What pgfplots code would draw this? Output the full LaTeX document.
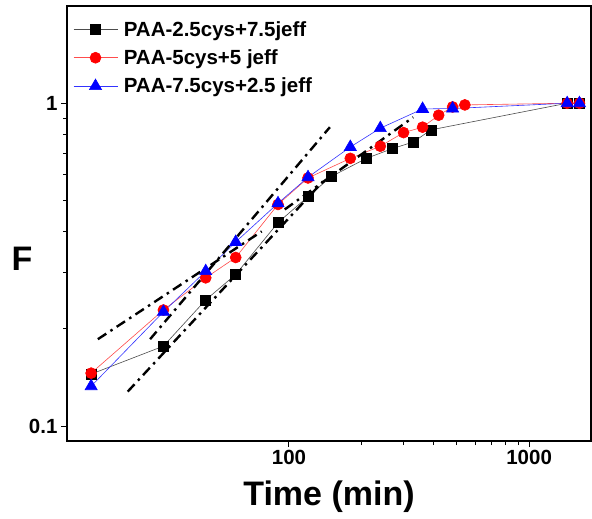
\documentclass[border=0pt]{standalone}
\usepackage{fontspec}
\setmainfont{Liberation Sans}
\usepackage{pgfplots}
\pgfplotsset{compat=1.18}

\begin{document}
\begin{tikzpicture}
\begin{axis}[
  xmode=log, ymode=log,
  width=524pt, height=435pt, scale only axis,
  xmin=11.9, xmax=1810, ymin=0.09, ymax=2.0,
  axis line style={line width=1.3pt},
  xtick={100,1000}, xticklabels={100,1000},
  ytick={0.1,1}, yticklabels={0.1,1},
  tick pos=left, tick align=outside,
  major tick length=6pt, minor tick length=4pt,
  every tick/.style={black, line width=1pt},
  ticklabel style={font=\fontsize{20.5}{24}\selectfont\bfseries},
  /pgf/number format/assume math mode=true,
  xlabel={Time (min)}, ylabel={F},
  label style={font=\fontsize{34}{38}\selectfont\bfseries},
  xlabel style={at={(axis description cs:0.5,0)}, anchor=center, yshift=-56pt},
  ylabel style={at={(axis description cs:-0.086,0.42)}, anchor=center, rotate=-90},
  legend style={at={(0pt,1)}, anchor=north west, draw=none, fill=none,
    font=\fontsize{20.5}{24}\selectfont\bfseries, row sep=8pt,
    nodes={inner xsep=6pt},
    xshift=3pt, yshift=-11pt},
  legend cell align=left,
  legend image code/.code={\draw[mark repeat=2,mark phase=2,#1] plot coordinates {(0pt,0pt) (22pt,0pt) (44pt,0pt)};},
]
\addplot[color=black!70, line width=0.6pt, mark=square*, mark size=5pt, mark options={fill=black, draw=black, solid}]
coordinates {(15,0.145) (30,0.177) (45,0.246) (60,0.295) (90,0.427) (120,0.514) (150,0.593) (210,0.675) (270,0.724) (330,0.759) (390,0.827) (1440,1.0) (1620,1.0)};
\addplot[color=red!70, line width=0.6pt, mark=*, mark size=5.5pt, mark options={fill=red, draw=red, solid}]
coordinates {(15,0.146) (30,0.229) (45,0.288) (60,0.333) (90,0.486) (120,0.587) (180,0.675) (240,0.736) (300,0.811) (360,0.843) (420,0.918) (480,0.974) (540,0.988) (1440,1.0) (1620,1.0)};
\addplot[color=blue!80, line width=0.6pt, mark=triangle*, mark size=7pt, mark options={fill=blue, draw=blue, solid}]
coordinates {(15,0.133) (30,0.226) (45,0.302) (60,0.372) (90,0.490) (120,0.590) (180,0.732) (240,0.837) (360,0.960) (480,0.963) (1440,1.0) (1620,1.0)};
\legend{PAA-2.5cys+7.5jeff, PAA-5cys+5 jeff, PAA-7.5cys+2.5 jeff}
\pgfplotsset{every axis plot/.append style={forget plot}}
\addplot[black, line width=2.4pt, dash pattern=on 10pt off 5pt on 2.5pt off 5pt] coordinates {(16.0,0.186) (77,0.401)};
\addplot[black, line width=2.4pt, dash pattern=on 10pt off 5pt on 2.5pt off 5pt] coordinates {(26.4,0.186) (148,0.843)};
\addplot[black, line width=2.4pt, dash pattern=on 10pt off 5pt on 2.5pt off 5pt] coordinates {(21.3,0.128) (138.6,0.573)};
\addplot[black, line width=2.4pt, dash pattern=on 10pt off 5pt on 2.5pt off 5pt] coordinates {(96,0.469) (329,0.905)};
\end{axis}
\pgfresetboundingbox
\path[use as bounding box] ([xshift=-67pt,yshift=-77pt]current axis.south west) rectangle ([xshift=1pt,yshift=6pt]current axis.north east);
\end{tikzpicture}
\end{document}
